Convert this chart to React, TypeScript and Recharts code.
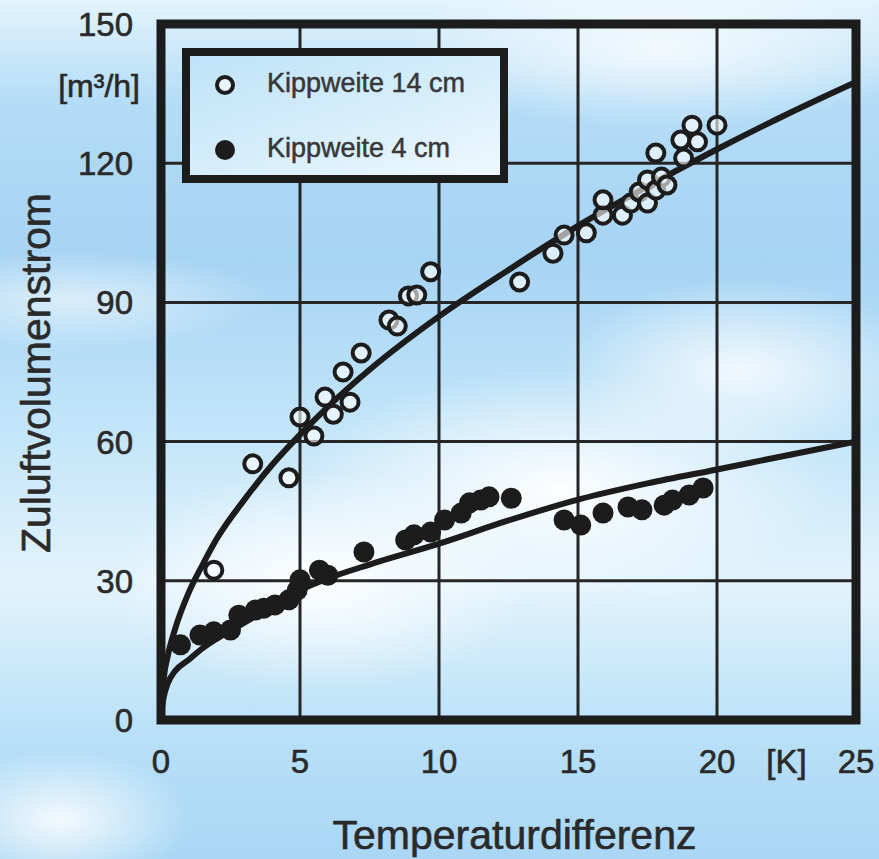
import React from "react";
import {
  ComposedChart,
  Scatter,
  Line,
  XAxis,
  YAxis,
  CartesianGrid,
  ReferenceArea,
  Legend,
  Label,
} from "recharts";

const FONT = '"Liberation Sans", Arial, sans-serif';
const INK = "#1c1c1c";
const TEXT = "#2a2a2a";

const xTicks = [0, 5, 10, 15, 20, 25];
const yTicks = [0, 30, 60, 90, 120, 150];

// Kippweite 14 cm – Messpunkte (offene Kreise)
const open14X = [
  1.9, 3.3, 4.6, 5.0, 5.5, 5.9, 6.2, 6.55, 6.8, 7.2, 8.2, 8.5, 8.9, 9.2, 9.7,
  12.9, 14.1, 14.5, 15.3, 15.9, 15.9, 16.6, 16.9, 17.2, 17.5, 17.5, 17.8, 17.8,
  18.0, 18.2, 18.7, 18.8, 19.1, 19.3, 20.0,
];
const open14Y = [
  32.3, 55.2, 52.2, 65.3, 61.2, 69.6, 65.9, 75.0, 68.5, 79.1, 86.2, 84.9, 91.4,
  91.6, 96.6, 94.4, 100.6, 104.5, 105.0, 108.8, 112.1, 108.8, 111.4, 113.8,
  111.4, 116.4, 114.2, 122.2, 117.0, 115.3, 125.0, 121.1, 128.2, 124.6, 128.2,
];

// Kippweite 4 cm – Messpunkte (gefüllte Kreise)
const filled4X = [
  0.7, 1.4, 1.9, 2.5, 2.8, 3.4, 3.7, 4.1, 4.6, 4.9, 5.0, 5.7, 6.0, 7.3, 8.8,
  9.1, 9.7, 10.2, 10.8, 11.1, 11.5, 11.8, 12.6, 14.5, 15.1, 15.9, 16.8, 17.3,
  18.1, 18.4, 19.0, 19.5,
];
const filled4Y = [
  16.2, 18.3, 19.0, 19.4, 22.6, 23.7, 24.1, 24.8, 25.9, 28.0, 30.2, 32.3, 31.2,
  36.2, 38.8, 39.9, 40.5, 43.1, 44.6, 46.8, 47.4, 48.1, 47.8, 43.1, 42.0, 44.6,
  45.9, 45.3, 46.3, 47.4, 48.5, 50.0,
];

// Ausgleichskurven
const curveX = [
  0, 0.1, 0.25, 0.5, 1, 1.5, 2, 3, 4, 5, 6, 7.5, 10, 12.5, 15, 17.5, 20, 22.5, 25,
];
const curve14Y = [
  1, 9, 14, 19.5, 27.5, 33.5, 39, 47.5, 55, 61.5, 67.5, 75.5, 87, 97, 106.5,
  115, 123, 130.5, 137.5,
];
const curve4Y = [
  1, 5, 8, 10.5, 13, 15.5, 17.5, 21, 24.5, 28, 30.5, 33.5, 38, 43, 47.5, 51,
  54, 57, 60,
];

const zip = (xs: number[], ys: number[]) => xs.map((x, i) => ({ x, y: ys[i] }));

const open14 = zip(open14X, open14Y);
const filled4 = zip(filled4X, filled4Y);
const curve14 = zip(curveX, curve14Y);
const curve4 = zip(curveX, curve4Y);

const skyBackground = [
  "radial-gradient(ellipse 270px 120px at 560px 490px, rgba(255,255,255,0.95), rgba(255,255,255,0))",
  "radial-gradient(ellipse 210px 110px at 320px 580px, rgba(255,255,255,0.95), rgba(255,255,255,0))",
  "radial-gradient(ellipse 180px 90px at 740px 370px, rgba(255,255,255,0.8), rgba(255,255,255,0))",
  "radial-gradient(ellipse 260px 80px at 660px 50px, rgba(255,255,255,0.75), rgba(255,255,255,0))",
  "radial-gradient(ellipse 130px 70px at 60px 820px, rgba(255,255,255,0.85), rgba(255,255,255,0))",
  "radial-gradient(ellipse 200px 50px at 70px 300px, rgba(255,255,255,0.55), rgba(255,255,255,0))",
  "linear-gradient(180deg, #e3f4fd 0%, #b3dcf6 12%, #a6d4f3 30%, #c3e5f9 50%, #e2f3fc 68%, #b8e0f7 86%, #a9d7f4 100%)",
].join(", ");

const textStyle = {
  fontFamily: FONT,
  fill: TEXT,
  stroke: TEXT,
  strokeWidth: 0.6,
};

function OpenDot(props: any) {
  return (
    <circle
      cx={props.cx}
      cy={props.cy}
      r={8.5}
      fill="rgba(255,255,255,0.6)"
      stroke={INK}
      strokeWidth={4}
    />
  );
}

function FilledDot(props: any) {
  return <circle cx={props.cx} cy={props.cy} r={10.5} fill={INK} />;
}

function XTick(props: any) {
  const { x, y, payload } = props;
  return (
    <text x={x} y={y + 53} textAnchor="middle" fontSize={33} {...textStyle}>
      {payload.value}
    </text>
  );
}

function YTick(props: any) {
  const { x, y, payload } = props;
  return (
    <text x={x - 28} y={y + 12} textAnchor="end" fontSize={33} {...textStyle}>
      {payload.value}
    </text>
  );
}

function KippLegend() {
  return (
    <div
      style={{
        boxSizing: "border-box",
        width: 326,
        height: 135,
        border: `8px solid ${INK}`,
        background: "linear-gradient(160deg, #bfe3f8 0%, #d4edfb 50%, #eef8fe 100%)",
        position: "relative",
      }}
    >
      <svg width={310} height={119} style={{ position: "absolute", left: 0, top: 0 }}>
        <circle cx={35} cy={29} r={8} fill="rgba(255,255,255,0.6)" stroke={INK} strokeWidth={4} />
        <text x={77} y={36} fontSize={27} {...textStyle} fill="#383838" stroke="#383838" strokeWidth={0.5}>
          Kippweite 14 cm
        </text>
        <circle cx={35} cy={94} r={10} fill={INK} />
        <text x={77} y={101} fontSize={27} {...textStyle} fill="#383838" stroke="#383838" strokeWidth={0.5}>
          Kippweite 4 cm
        </text>
      </svg>
    </div>
  );
}

export default function App() {
  return (
    <div
      style={{
        position: "absolute",
        left: 0,
        top: 0,
        width: 879,
        height: 859,
        background: skyBackground,
      }}
    >
      <ComposedChart
        width={879}
        height={859}
        margin={{ top: 24, right: 23, bottom: 39, left: 0 }}
      >
        <CartesianGrid stroke="#262626" strokeWidth={3} />
        <XAxis
          dataKey="x"
          type="number"
          domain={[0, 25]}
          ticks={xTicks}
          height={100}
          tickLine={false}
          tickSize={0}
          tickMargin={0}
          axisLine={false}
          tick={<XTick />}
          interval={0}
        >
          <Label
            content={(p: any) => {
              const vb = p.viewBox;
              return (
                <g>
                  <text
                    x={vb.x + vb.width * 0.9}
                    y={vb.y + 53}
                    textAnchor="middle"
                    fontSize={33}
                    {...textStyle}
                  >
                    [K]
                  </text>
                  <text
                    x={vb.x + vb.width / 2 + 6}
                    y={vb.y + 129}
                    textAnchor="middle"
                    fontSize={41}
                    {...textStyle}
                  >
                    Temperaturdifferenz
                  </text>
                </g>
              );
            }}
          />
        </XAxis>
        <YAxis
          type="number"
          domain={[0, 150]}
          ticks={yTicks}
          width={161}
          tickLine={false}
          tickSize={0}
          tickMargin={0}
          axisLine={false}
          tick={<YTick />}
          interval={0}
        >
          <Label
            content={(p: any) => {
              const vb = p.viewBox;
              const cy = 373;
              return (
                <g>
                  <text
                    x={vb.x + vb.width - 21}
                    y={vb.y + 73}
                    textAnchor="end"
                    fontSize={32}
                    {...textStyle}
                  >
                    [m³/h]
                  </text>
                  <text
                    x={50}
                    y={cy}
                    transform={`rotate(-90 50 ${cy})`}
                    textAnchor="middle"
                    fontSize={41}
                    {...textStyle}
                  >
                    Zuluftvolumenstrom
                  </text>
                </g>
              );
            }}
          />
        </YAxis>
        <Line
          data={curve14}
          dataKey="y"
          type="monotone"
          stroke={INK}
          strokeWidth={6}
          dot={false}
          activeDot={false}
          isAnimationActive={false}
          legendType="none"
        />
        <Line
          data={curve4}
          dataKey="y"
          type="monotone"
          stroke={INK}
          strokeWidth={6}
          dot={false}
          activeDot={false}
          isAnimationActive={false}
          legendType="none"
        />
        <Scatter
          name="Kippweite 14 cm"
          data={open14}
          dataKey="y"
          shape={<OpenDot />}
          isAnimationActive={false}
        />
        <Scatter
          name="Kippweite 4 cm"
          data={filled4}
          dataKey="y"
          shape={<FilledDot />}
          isAnimationActive={false}
        />
        <ReferenceArea
          x1={0}
          x2={25}
          y1={0}
          y2={150}
          fill="none"
          stroke={INK}
          strokeWidth={9}
          ifOverflow="visible"
        />
        <Legend
          layout="vertical"
          align="center"
          verticalAlign="middle"
          wrapperStyle={{ left: 182, top: 48, width: 326, height: 135 }}
          content={() => <KippLegend />}
        />
      </ComposedChart>
    </div>
  );
}
